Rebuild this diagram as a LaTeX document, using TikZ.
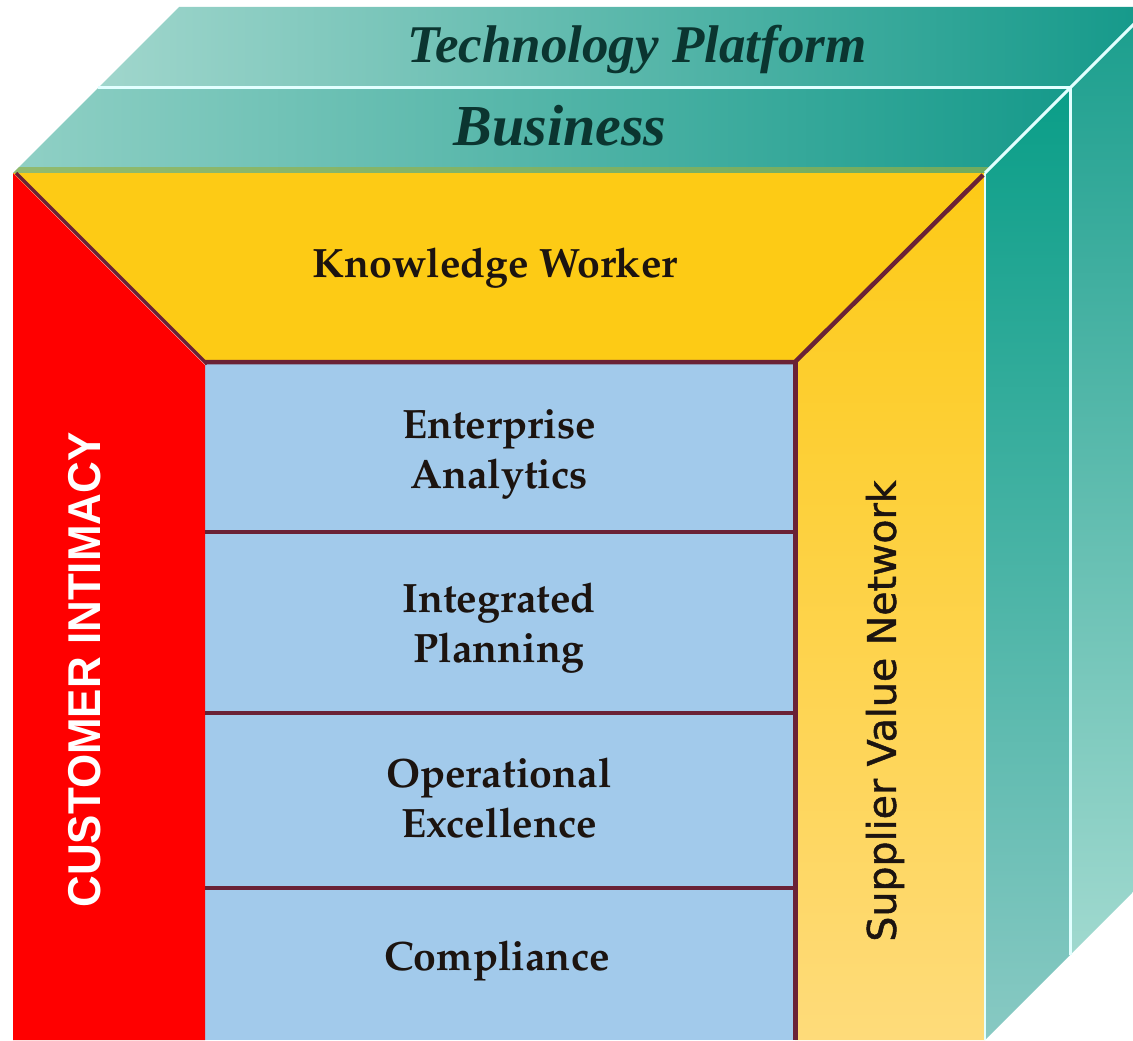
\documentclass[tikz,border=0pt]{standalone}
\usepackage[T1]{fontenc}
\usepackage{fontspec}
\newfontfamily\arialf{Liberation Sans}
\newfontfamily\dejaf[FakeBold=1.2]{DejaVu Sans}
\newfontfamily\timesf{Liberation Serif}
\IfFileExists{t1ppl.fd}
  {\newcommand\palbf{\fontencoding{T1}\fontfamily{ppl}\fontseries{b}\fontshape{n}\fontsize{41}{50}\selectfont}}
  {\newcommand\palbf{\timesf\bfseries\fontsize{43}{50}\selectfont}}
\definecolor{tealL}{HTML}{A0D6CC}
\definecolor{tealD}{HTML}{14998A}
\definecolor{tealL2}{HTML}{90D0C5}
\definecolor{tealD2}{HTML}{169A8B}
\definecolor{sideTop}{HTML}{0A9E88}
\definecolor{sideMid}{HTML}{10A390}
\definecolor{sideBot}{HTML}{88C9C3}
\definecolor{backTop}{HTML}{1A9E8D}
\definecolor{backMid}{HTML}{40AFA0}
\definecolor{backBot}{HTML}{A0D9CF}
\definecolor{yelTop}{HTML}{FDCA16}
\definecolor{yelBot}{HTML}{FEDB7A}
\definecolor{yelMain}{HTML}{FDCB15}
\definecolor{paleBlue}{HTML}{A2CAEB}
\definecolor{redFace}{HTML}{FF0000}
\definecolor{maroon}{HTML}{6A2236}
\definecolor{edgeWhite}{HTML}{E2FFFF}
\definecolor{oliveBand}{HTML}{93B24A}
\definecolor{darkText}{HTML}{1C1410}
\definecolor{tealText}{HTML}{0B3530}
\tikzset{
  frontlabel/.style={font=\palbf, text=darkText, inner sep=0pt, align=center},
  toplabel/.style={text=tealText, inner sep=0pt, anchor=base},
  divider/.style={draw=maroon, line width=4.5pt},
  whiteedge/.style={draw=edgeWhite, line width=3pt},
}
\begin{document}
\begin{tikzpicture}[x=1pt,y=-1pt]
\useasboundingbox (0,0) rectangle (1133,1041);
\clip (0,0) rectangle (1133,1041);
% top face
\shade[left color=tealL, right color=tealD] (179,7) -- (1151,7) -- (1070,88) -- (98,88) -- cycle;
\shade[left color=tealL2, right color=tealD2] (98,88) -- (1070,88) -- (985,173) -- (13,173) -- cycle;
\fill[oliveBand, opacity=0.7] (19,167) -- (991,167) -- (985,173) -- (13,173) -- cycle;
% right face
\shade[top color=sideTop, middle color=sideMid, bottom color=sideBot] (985,173) -- (1070,88) -- (1070,955) -- (985,1040) -- cycle;
\shade[top color=backTop, middle color=backMid, bottom color=backBot] (1070,88) -- (1151,7) -- (1151,874) -- (1070,955) -- cycle;
\draw[whiteedge] (98,88) -- (1070,88) -- (1070,955);
\draw[whiteedge] (985,173) -- (1151,7);
% front face
\shade[top color=yelTop, bottom color=yelBot] (795,362) -- (985,173) -- (985,1040) -- (795,1040) -- cycle;
\fill[yelMain] (13,173) -- (985,173) -- (795,362) -- (205,362) -- cycle;
\fill[paleBlue] (205,362) rectangle (795,1040);
\fill[redFace] (13,173) -- (205,365) -- (205,1040) -- (13,1040) -- cycle;
\draw[draw=edgeWhite, line width=1.5pt] (985,173) -- (985,1040);
% dividers
\draw[divider, line width=3.5pt] (16,173) -- (207,364);
\draw[divider] (205,362) -- (795,362) -- (983,175);
\draw[divider, line width=5pt] (795,362) -- (795,1040);
\draw[divider] (205,532) -- (795,532);
\draw[divider] (205,713) -- (795,713);
\draw[divider] (205,888) -- (795,888);
% labels
\node[toplabel, font=\timesf\bfseries\itshape\fontsize{53}{60}\selectfont] (tech) at (637,63) {Technology Platform};
\node[toplabel, font=\timesf\bfseries\itshape\fontsize{58}{66}\selectfont] (bus) at (560,145) {Business};
\node[frontlabel, anchor=base] (kw) at (495,277) {Knowledge Worker};
\node[frontlabel] (ea) at (499,454) {Enterprise\\Analytics};
\node[frontlabel] (ip) at (499,628) {Integrated\\Planning};
\node[frontlabel] (oe) at (499,798) {Operational\\Excellence};
\node[frontlabel, anchor=base] (co) at (497,970) {Compliance};
\node[rotate=90, text=white, inner sep=0pt, font=\arialf\bfseries\fontsize{46}{50}\selectfont] (ci) at (85,670) {\scalebox{0.955}[1]{CUSTOMER INTIMACY}};
\node[rotate=90, text=darkText, inner sep=0pt, font=\dejaf\fontsize{39.5}{44}\selectfont] (svn) at (885,711) {Supplier Value Network};
\end{tikzpicture}
\end{document}
